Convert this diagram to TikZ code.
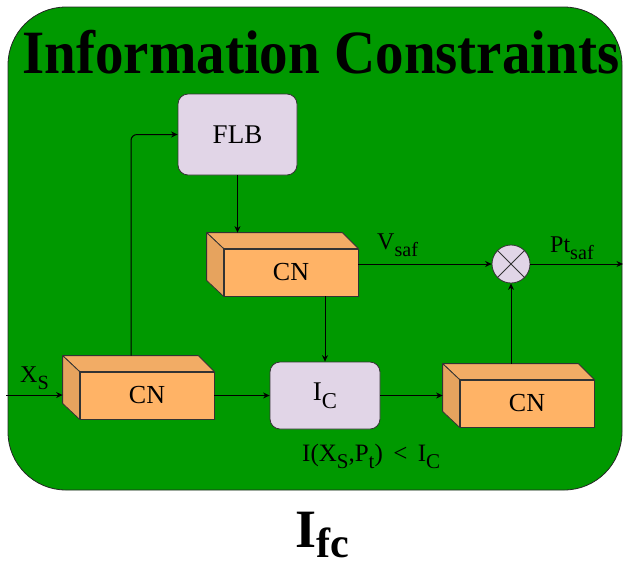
\documentclass[tikz,border=0pt]{standalone}
\usepackage{fontspec}
\usepackage{graphicx}
\setmainfont{Liberation Serif}
\usetikzlibrary{calc,arrows.meta}

\definecolor{panelgreen}{HTML}{009900}
\definecolor{lav}{HTML}{E1D5E7}
\definecolor{cubefrontc}{HTML}{FFB366}
\definecolor{cubetopc}{HTML}{F2AC65}
\definecolor{cubeleftc}{HTML}{E6A35E}
\definecolor{edgec}{HTML}{333333}

% lowered, smaller text for subscripts
\newcommand\lsub[1]{\raisebox{-0.3em}{\scalebox{0.84}{#1}}}

% side faces of a box drawn behind a front face node
\newcommand\cubesides[1]{%
  \filldraw[cubetop] (#1.north west) -- ++(-17,-16) -- ($(#1.north east)+(-16,-16)$) -- (#1.north east) -- cycle;
  \filldraw[cubeleft] (#1.north west) -- ++(-17,-16) -- ($(#1.south west)+(-17,-16)$) -- (#1.south west) -- cycle;
}

\tikzset{
  panel/.style={draw=black!85, fill=panelgreen, line width=0.8pt, rounded corners=58pt,
    minimum width=614pt, minimum height=483pt, inner sep=0pt},
  cubebox/.style={draw=edgec, fill=cubefrontc, line width=0.8pt, minimum width=134pt,
    minimum height=47pt, inner sep=0pt, font=\fontsize{26}{28}\selectfont},
  cubetop/.style={draw=edgec, fill=cubetopc, line width=0.8pt, line join=round},
  cubeleft/.style={draw=edgec, fill=cubeleftc, line width=0.8pt, line join=round},
  roundbox/.style={draw=edgec, fill=lav, line width=0.8pt, rounded corners=10pt,
    inner sep=0pt, font=\fontsize{27}{29}\selectfont},
  sumnode/.style={draw=edgec, fill=lav, line width=0.8pt, circle, minimum size=38pt, inner sep=0pt},
  lbl/.style={inner sep=0pt, anchor=base west, font=\fontsize{24}{26}\selectfont},
  arr/.style={draw=black, line width=1pt, -{Stealth[length=6.5pt,width=6pt]}},
}

\begin{document}
\begin{tikzpicture}[x=1pt,y=-1pt]
\useasboundingbox (0,0) rectangle (623,566);

% green panel
\node[panel] (panel) at (315,248.5) {};

% title
\node[inner sep=0pt, anchor=base, font=\fontsize{57}{60}\selectfont\bfseries] (title) at (321,73) {\scalebox{1}[1.08]{Information Constraints}};

% blocks
\node[roundbox, minimum width=119pt, minimum height=81pt] (flb) at (237.5,134.5) {FLB};
\node[roundbox, minimum width=110pt, minimum height=67pt] (ic) at (325,395.5) {I\lsub{C}};

\node[cubebox] (cn1) at (147,395.5) {CN};
\cubesides{cn1}
\node[cubebox] (cn2) at (291,272.5) {CN};
\cubesides{cn2}
\node[cubebox] (cn3) at (527,403.5) {CN};
\cubesides{cn3}

\node[sumnode] (sum) at (511,264) {};
\draw[edgec, line width=0.8pt] (sum.north west) -- (sum.south east);
\draw[edgec, line width=0.8pt] (sum.north east) -- (sum.south west);

% free ends and points on the box faces
\coordinate (xin) at (6,395);
\coordinate (out) at (623,264);
\coordinate (cn1back) at ($(cn1.west)+(-17,0)$);
\coordinate (cn1top) at ($(cn1.north)+(-16,-16)$);
\coordinate (cn2top) at ($(cn2.north)+(0,-16)$);
\coordinate (cn3back) at ($(cn3.west)+(-17,0)$);
\coordinate (cn3top) at ($(cn3.north)+(0,-16)$);

% connectors
\draw[arr] (xin) -- (xin -| cn1back);
\draw[arr, rounded corners=6pt] (cn1top) |- (flb.west);
\draw[arr] (flb.south) -- (flb.south |- cn2top);
\draw[arr] (cn2.east |- sum.west) -- (sum.west);
\draw[arr] (ic.north |- cn2.south) -- (ic.north);
\draw[arr] (cn1.east) -- (cn1.east -| ic.west);
\draw[arr] (ic.east) -- (ic.east -| cn3back);
\draw[arr] (sum.south |- cn3top) -- (sum.south);
\draw[arr] (sum.east) -- (out);

% labels
\node[lbl] (xs) at (20,382) {X\lsub{S}};
\node[lbl] (vsaf) at (377,249) {V\lsub{saf}};
\node[lbl] (ptsaf) at (550,252) {Pt\lsub{saf}};
\node[lbl, font=\fontsize{25}{27}\selectfont] (cond) at (302,461) {I(X\lsub{S},P\lsub{t}) \,<\, I\lsub{C}};

% caption
\node[inner sep=0pt, anchor=base west, font=\fontsize{54}{58}\selectfont\bfseries] (ifc) at (295,547) {I\raisebox{-0.2em}{\scalebox{0.78}{fc}}};
\end{tikzpicture}
\end{document}
